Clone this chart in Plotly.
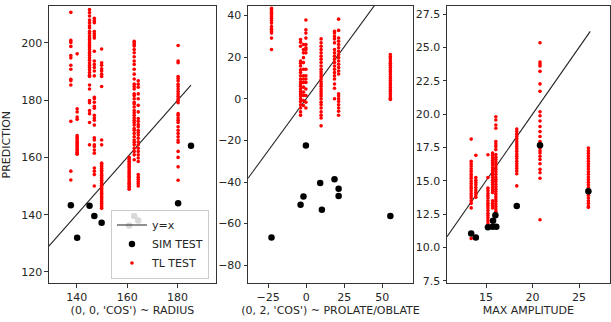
import plotly.graph_objects as go
from plotly.subplots import make_subplots

# ---------------- Panel 1 : (0, 0, 'COS') ~ RADIUS ----------------
P1_SIM_X = [137.7, 140.2, 145.1, 147.0, 149.9, 160.8, 162.8, 164.4, 180.2, 185.3]
P1_SIM_Y = [143.3, 131.9, 143.1, 139.5, 137.2, 136.2, 139.5, 138.0, 144.0, 164.1]
P1_TL_COLS = [137.7, 140.2, 145.1, 147.0, 149.9, 160.8, 162.8, 164.4, 180.2]
P1_TL_A = [210.7, 200.9, 200.2, 198.8, 195.6, 194.8, 192.2, 190.8, 187.3, 186.8, 185.3, 172.6, 155.2, 152.1]
P1_TL_B = [196.2, 177.0, 175.9, 174.1, 173.3, 167.6, 167.0, 166.4, 165.8, 165.3, 164.8, 164.3, 163.8,
           163.3, 162.8, 162.3, 161.8, 161.4, 161.1]
P1_TL_C = [211.7, 210.6, 209.4, 208.0, 207.1, 206.0, 205.2, 204.0, 203.4, 202.5, 201.7, 201.1, 200.2,
           199.4, 198.9, 198.3, 197.7, 196.8, 196.3, 195.6, 194.8, 194.0, 193.1, 192.2, 191.4, 190.6,
           189.7, 188.7, 188.3, 185.3, 183.9, 179.9, 179.1, 176.4, 175.3, 172.2, 164.4]
P1_TL_D = [208.6, 207.8, 207.1, 204.0, 203.2, 202.5, 201.7, 197.1, 193.7, 192.5, 191.4, 190.2, 188.5,
           181.0, 180.5, 179.3, 177.9, 177.2, 174.7, 173.8, 173.0, 171.3, 166.9, 166.1, 164.4, 163.8,
           162.6, 161.5, 156.3, 155.2, 154.0, 150.0]
P1_TL_E = [197.9, 193.1, 192.2, 191.0, 190.2, 189.1, 188.3, 184.8, 166.1, 164.4, 158.0, 157.4, 156.8,
           156.2, 155.5, 155.0, 154.3, 153.8, 153.2, 152.6, 152.0, 151.4, 150.9, 150.3, 149.8, 149.2,
           148.6, 148.0, 147.5, 146.9, 146.3, 145.8, 145.2, 144.6, 144.0, 143.4, 142.8, 142.2]
P1_TL_F = [160.0, 159.4, 158.7, 158.1, 157.5, 156.9, 156.3, 155.7, 155.1, 154.5, 153.9, 153.3, 152.8,
           152.2, 151.6, 151.0, 150.5, 149.9, 149.3, 148.9]
P1_TL_G = [200.6, 200.0, 199.4, 198.9, 197.7, 196.6, 195.2, 193.7, 192.5, 190.8, 189.1, 187.4, 185.6,
           184.8, 183.9, 182.2, 181.6, 180.5, 179.3, 178.7, 177.6, 176.4, 175.6, 174.7, 173.8, 173.0,
           172.2, 171.3, 170.1, 169.5, 168.4, 167.2, 166.1, 165.3, 164.4, 163.2, 162.1, 160.9, 159.2]
P1_TL_H = [186.8, 185.6, 184.5, 182.2, 180.5, 178.2, 175.9, 173.6, 172.6, 171.5, 170.7, 169.5, 168.7,
           167.8, 166.7, 165.5, 164.4, 163.2, 162.1, 160.9, 159.8, 158.6, 154.0, 153.1, 152.3, 151.5,
           150.8, 150.0]
P1_TL_I = [199.1, 193.7, 193.1, 188.3, 187.6, 186.8, 185.6, 184.8, 183.9, 183.0, 182.2, 181.4, 180.5,
           179.9, 179.1, 175.3, 174.7, 173.8, 173.0, 172.2, 170.7, 169.5, 168.4, 167.2, 166.1, 165.3,
           162.1, 160.0, 156.7, 152.0]
P1_TL_Y = [P1_TL_A, P1_TL_B, P1_TL_C, P1_TL_D, P1_TL_E, P1_TL_F, P1_TL_G, P1_TL_H, P1_TL_I]
P1_LINE = [129.0, 185.3]

# ---------------- Panel 2 : (0, 2, 'COS') ~ PROLATE/OBLATE ----------------
P2_SIM_X = [-22.8, -3.7, -1.8, -0.2, 9.2, 10.3, 18.6, 21.3, 21.3, 55.3]
P2_SIM_Y = [-66.7, -50.9, -47.0, -22.5, -40.5, -53.3, -38.7, -43.2, -46.7, -56.3]
P2_TL_COLS = [-22.8, -3.7, -1.8, -0.2, 9.8, 18.6, 21.3, 55.3]
P2_TL_A = [43.5, 42.7, 41.9, 41.1, 40.3, 39.5, 38.7, 37.6, 36.4, 34.8, 33.5, 32.4, 31.6, 29.2, 23.7]
P2_TL_B = [28.5, 27.2, 25.3, 18.2, 17.1, 15.8, 13.9, 12.6, 11.1, 9.5, 8.2, 7.1, 6.0, 4.7, 3.5, 2.4,
           1.3, 0.0, -1.3, -2.9, -4.4, -6.3, -7.9]
P2_TL_C = [26.1, 23.7, 22.1, 19.8, 17.4, 14.2, 11.1, 9.5, 7.9, 5.6, 3.2, 1.6, -0.8, -3.2]
P2_TL_D = [37.9, 33.2, 31.6, 29.2, 26.1, 24.5, 23.7, 22.1, 14.2, 11.1, 9.5, 7.9, 4.7, 1.6, -1.6, -4.4]
P2_TL_E = [28.8, 26.9, 25.3, 23.7, 22.1, 20.5, 19.0, 17.4, 15.8, 14.2, 13.0, 11.9, 10.7, 9.5, 8.2,
           7.1, 6.0, 4.7, 3.5, 2.4, 1.3, 0.0, -1.6, -2.9, -4.4, -6.3, -7.9, -9.2, -13.0]
P2_TL_F = [32.4, 31.6, 30.0, 28.8, 26.9, 23.7, 22.1, 20.5, 19.0, 17.4, 15.8, 14.2, 12.6, 11.1, 9.5,
           7.1, 5.1, 0.0]
P2_TL_G = [38.3, 32.9, 29.2, 27.7, 26.1, 24.5, 22.9, 21.3, 19.8, 18.2, 16.6, 15.0, 13.4, 11.9, 2.4,
           1.3, 0.0, -1.3, -2.9, -4.4, -6.0, -7.9]
P2_TL_H = [21.3, 20.2, 19.3, 18.2, 17.1, 16.1, 15.0, 13.9, 13.0, 11.9, 10.7, 9.8, 8.7, 7.6, 6.6, 5.5,
           4.4, 3.5, 2.4, 1.3, 0.3, -0.3]
P2_TL_Y = [P2_TL_A, P2_TL_B, P2_TL_C, P2_TL_D, P2_TL_E, P2_TL_F, P2_TL_G, P2_TL_H]
P2_LINE = [-38.2, 55.3]

# ---------------- Panel 3 : MAX AMPLITUDE ----------------
P3_SIM_X = [13.4, 13.9, 15.2, 15.7, 15.75, 16.1, 16.0, 18.3, 20.8, 26.0]
P3_SIM_Y = [11.03, 10.73, 11.5, 11.55, 12.0, 11.55, 12.4, 13.1, 17.65, 14.2]
P3_TL_COLS = [13.4, 13.9, 15.2, 15.7, 16.05, 18.3, 20.8, 26.0]
P3_TL_A = [18.12, 16.46, 16.27, 16.1, 15.9, 15.7, 15.5, 15.35, 15.18, 14.98, 14.78, 14.6, 14.44, 14.24,
           14.04, 13.87, 13.7, 13.5, 13.3, 12.96, 10.66]
P3_TL_B = [16.9, 15.23, 15.03, 14.86, 14.69, 14.49, 14.3, 14.12, 13.94, 13.75]
P3_TL_C = [16.95, 15.23, 14.44, 14.24, 14.04, 13.87, 13.7, 13.5, 13.3, 13.13, 12.96, 12.76, 12.56,
           12.39, 12.22, 12.02, 11.82, 11.65, 11.52]
P3_TL_D = [17.08, 16.9, 16.71, 16.51, 16.34, 16.17, 15.97, 15.77, 15.6, 15.43, 15.23, 15.03, 14.86,
           14.69, 14.49, 14.3, 14.12, 13.5, 13.3, 13.13, 12.96]
P3_TL_E = [19.8, 19.55, 19.18, 18.93, 17.94, 17.75, 17.57, 17.33, 16.96, 16.76, 16.59, 16.41, 16.22,
           16.02, 15.85, 15.67, 15.48, 15.28, 15.1, 14.93, 14.73, 14.54, 14.36, 14.19, 13.99, 13.8,
           13.62, 13.45, 13.25, 13.06, 12.88, 12.71, 12.51, 12.31]
P3_TL_F = [18.88, 18.68, 18.49, 18.31, 18.14, 17.94, 17.75, 17.57, 17.4, 17.2, 17.01, 16.83, 16.66,
           16.46, 16.27, 16.1, 15.92, 15.72, 15.52, 14.61]
P3_TL_G = [25.35, 23.9, 23.75, 23.6, 23.2, 22.26, 21.7, 20.17, 19.87, 19.48, 19.06, 18.68, 18.31,
           17.94, 17.7, 17.45, 17.25, 17.08, 16.83, 16.59, 16.27, 15.85, 15.6, 15.18, 12.07]
P3_TL_H = [17.45, 17.25, 17.06, 16.86, 16.66, 16.46, 16.27, 16.07, 15.87, 15.67, 15.48, 15.28, 15.08,
           14.88, 14.69, 14.49, 14.29, 14.09, 13.9, 13.7, 13.5, 13.3, 13.1, 13.0]
P3_TL_Y = [P3_TL_A, P3_TL_B, P3_TL_C, P3_TL_D, P3_TL_E, P3_TL_F, P3_TL_G, P3_TL_H]
P3_LINE = [10.8, 26.2]

X_TITLES = ["(0, 0, 'COS') ~ RADIUS", "(0, 2, 'COS') ~ PROLATE/OBLATE", "MAX AMPLITUDE"]
Y_TITLE = "PREDICTION"

PANELS = [
    (P1_SIM_X, P1_SIM_Y, P1_TL_COLS, P1_TL_Y, P1_LINE),
    (P2_SIM_X, P2_SIM_Y, P2_TL_COLS, P2_TL_Y, P2_LINE),
    (P3_SIM_X, P3_SIM_Y, P3_TL_COLS, P3_TL_Y, P3_LINE),
]

fig = make_subplots(rows=1, cols=3)

for i, (sx, sy, cols, tly, line) in enumerate(PANELS):
    c = i + 1
    tx, ty = [], []
    for xc, ys in zip(cols, tly):
        tx += [xc] * len(ys)
        ty += ys
    fig.add_trace(go.Scatter(x=line, y=line, mode="lines", name="y=x",
                             line=dict(color="#222222", width=1.1),
                             showlegend=(i == 0), legendrank=1), row=1, col=c)
    fig.add_trace(go.Scatter(x=tx, y=ty, mode="markers", name="TL TEST",
                             marker=dict(color="red", size=3.6, line=dict(width=0)),
                             showlegend=(i == 0), legendrank=3), row=1, col=c)
    fig.add_trace(go.Scatter(x=sx, y=sy, mode="markers", name="SIM TEST",
                             marker=dict(color="black", size=6.5, line=dict(width=0)),
                             showlegend=(i == 0), legendrank=2), row=1, col=c)

font = dict(family="DejaVu Sans", size=11, color="#262626")
axis_common = dict(showgrid=False, zeroline=False, showline=True, linecolor="#333333",
                   linewidth=1, mirror=True, ticks="outside", ticklen=3.5, tickwidth=1,
                   tickcolor="#333333", tickfont=font)

x_domains = [[0.080, 0.3535], [0.406, 0.676], [0.7316, 0.998]]
y_domain = [0.109, 0.981]
x_ranges = [[129, 195.2], [-38.2, 70.2], [10.8, 28.3]]
y_ranges = [[116, 212.9], [-88.7, 44.6], [7.3, 28.1]]
x_ticks = [[140, 160, 180], [-25, 0, 25, 50], [15, 20, 25]]
y_ticks = [[120, 140, 160, 180, 200], [-80, -60, -40, -20, 0, 20, 40],
           [7.5, 10, 12.5, 15, 17.5, 20, 22.5, 25, 27.5]]

for i in range(3):
    xa = "xaxis" if i == 0 else f"xaxis{i+1}"
    ya = "yaxis" if i == 0 else f"yaxis{i+1}"
    fig.layout[xa].update(domain=x_domains[i], range=x_ranges[i], tickvals=x_ticks[i],
                          title=dict(text=X_TITLES[i], font=font, standoff=2), **axis_common)
    yextra = dict(tickformat=".1f") if i == 2 else {}
    fig.layout[ya].update(domain=y_domain, range=y_ranges[i], tickvals=y_ticks[i],
                          **yextra, **axis_common)
    if i == 0:
        fig.layout[ya].update(title=dict(text=Y_TITLE, font=font, standoff=9))

fig.update_layout(
    width=611, height=322,
    margin=dict(l=0, r=0, t=0, b=0),
    paper_bgcolor="white", plot_bgcolor="white",
    font=font,
    legend=dict(x=0.342, y=0.124, xanchor="right", yanchor="bottom",
                bgcolor="rgba(255,255,255,0.85)", bordercolor="#cccccc", borderwidth=1,
                font=dict(family="DejaVu Sans", size=11, color="#262626"),
                tracegroupgap=0, itemwidth=30),
    showlegend=True,
)

fig.write_html("out.html")
